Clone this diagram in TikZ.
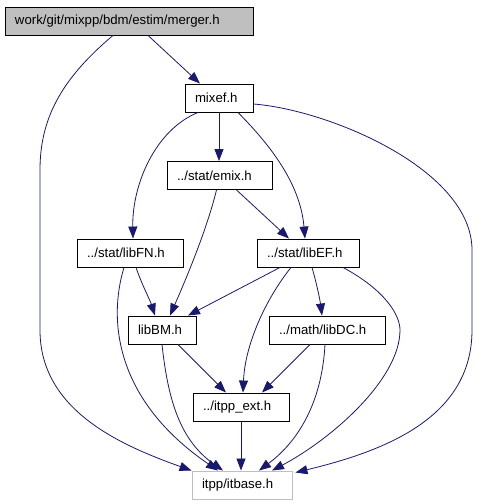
\documentclass[tikz,border=0pt]{standalone}
\usepackage{fontspec}
\setmainfont{Liberation Sans}
\usetikzlibrary{arrows.meta}
\definecolor{edgeblue}{HTML}{191970}
\definecolor{boxgray}{HTML}{BFBFBF}
\begin{document}
\begin{tikzpicture}[x=1pt,y=-1pt,
  file/.style={draw, line width=0.9pt, minimum height=28pt, inner xsep=10pt, inner ysep=0pt, align=left, font=\fontsize{13.2pt}{15pt}\selectfont},
  inc/.style={->, >={Triangle[length=12pt,width=9pt]}, draw=edgeblue, fill=none, line width=0.8pt}]
\useasboundingbox (0,0) rectangle (477,504);

\node[file, fill=boxgray, text width=228pt] (merger) at (129,21) {work/git/mixpp/bdm/estim/merger.h};
\node[file, text width=48pt] (mixef) at (219,98) {mixef.h};
\node[file, text width=85pt] (emix) at (219.5,175.5) {../stat/emix.h};
\node[file, text width=86pt] (libFN) at (130,253) {../stat/libFN.h};
\node[file, text width=82pt] (libEF) at (308,253) {../stat/libEF.h};
\node[file, text width=48pt] (libBM) at (162,330) {libBM.h};
\node[file, text width=96pt] (libDC) at (327,330) {../math/libDC.h};
\node[file, text width=76pt] (itppext) at (241,407) {../itpp\_ext.h};
\node[file, draw=boxgray, text width=80pt] (itbase) at (242,485) {itpp/itbase.h};

% merger.h
\draw[inc] ([xshift=19pt]merger.south) -- ([xshift=-19pt]mixef.north);
\draw[inc] ([xshift=-16pt]merger.south) .. controls (60,80) and (40,120) .. (40,170) -- (40,330) .. controls (40,410) and (120,445) .. (itbase.north west);

% mixef.h
\draw[inc] (mixef.south) -- (emix.north -| mixef.south);
\draw[inc] ([xshift=-21pt]mixef.south) .. controls (155,130) and (132,185) .. ([xshift=3pt]libFN.north);
\draw[inc] ([xshift=19pt]mixef.south) .. controls (265,140) and (300,180) .. ([xshift=-3pt]libEF.north);
\draw[inc] ([yshift=-6pt]mixef.east) .. controls (330,110) and (472,170) .. (472,250) -- (472,330) .. controls (472,420) and (380,452) .. ([xshift=3pt,yshift=-2pt]itbase.north east);

% emix.h
\draw[inc] ([xshift=-3pt]emix.south) .. controls (208,225) and (190,270) .. ([xshift=8pt]libBM.north);
\draw[inc] ([xshift=17pt]emix.south) -- ([xshift=-19pt]libEF.north);

% libFN.h
\draw[inc] ([xshift=6pt]libFN.south) .. controls (142,285) and (150,300) .. ([xshift=-7pt]libBM.north);
\draw[inc] ([xshift=-6pt]libFN.south) .. controls (108,320) and (115,400) .. ([xshift=-24pt]itbase.north);

% libEF.h
\draw[inc] ([xshift=-28pt]libEF.south) -- ([xshift=26pt]libBM.north);
\draw[inc] ([xshift=-17pt]libEF.south) .. controls (265,300) and (245,345) .. ([xshift=2pt]itppext.north);
\draw[inc] ([xshift=4pt]libEF.south) .. controls (317,285) and (320,300) .. ([xshift=-5pt]libDC.north);
\draw[inc] ([xshift=35pt]libEF.south) .. controls (385,290) and (400,315) .. (400,330) .. controls (400,380) and (330,440) .. ([xshift=30pt]itbase.north);

% libBM.h
\draw[inc] ([xshift=16pt]libBM.south) -- ([xshift=-15pt]itppext.north);
\draw[inc] (libBM.south) .. controls (168,400) and (180,440) .. ([xshift=-19pt]itbase.north);

% libDC.h
\draw[inc] ([xshift=-17pt]libDC.south) -- ([xshift=21pt]itppext.north);
\draw[inc] ([xshift=-2pt]libDC.south) .. controls (322,400) and (300,440) .. ([xshift=17pt]itbase.north);

% itpp_ext.h
\draw[inc] (itppext.south) -- (itppext.south |- itbase.north);
\end{tikzpicture}
\end{document}
